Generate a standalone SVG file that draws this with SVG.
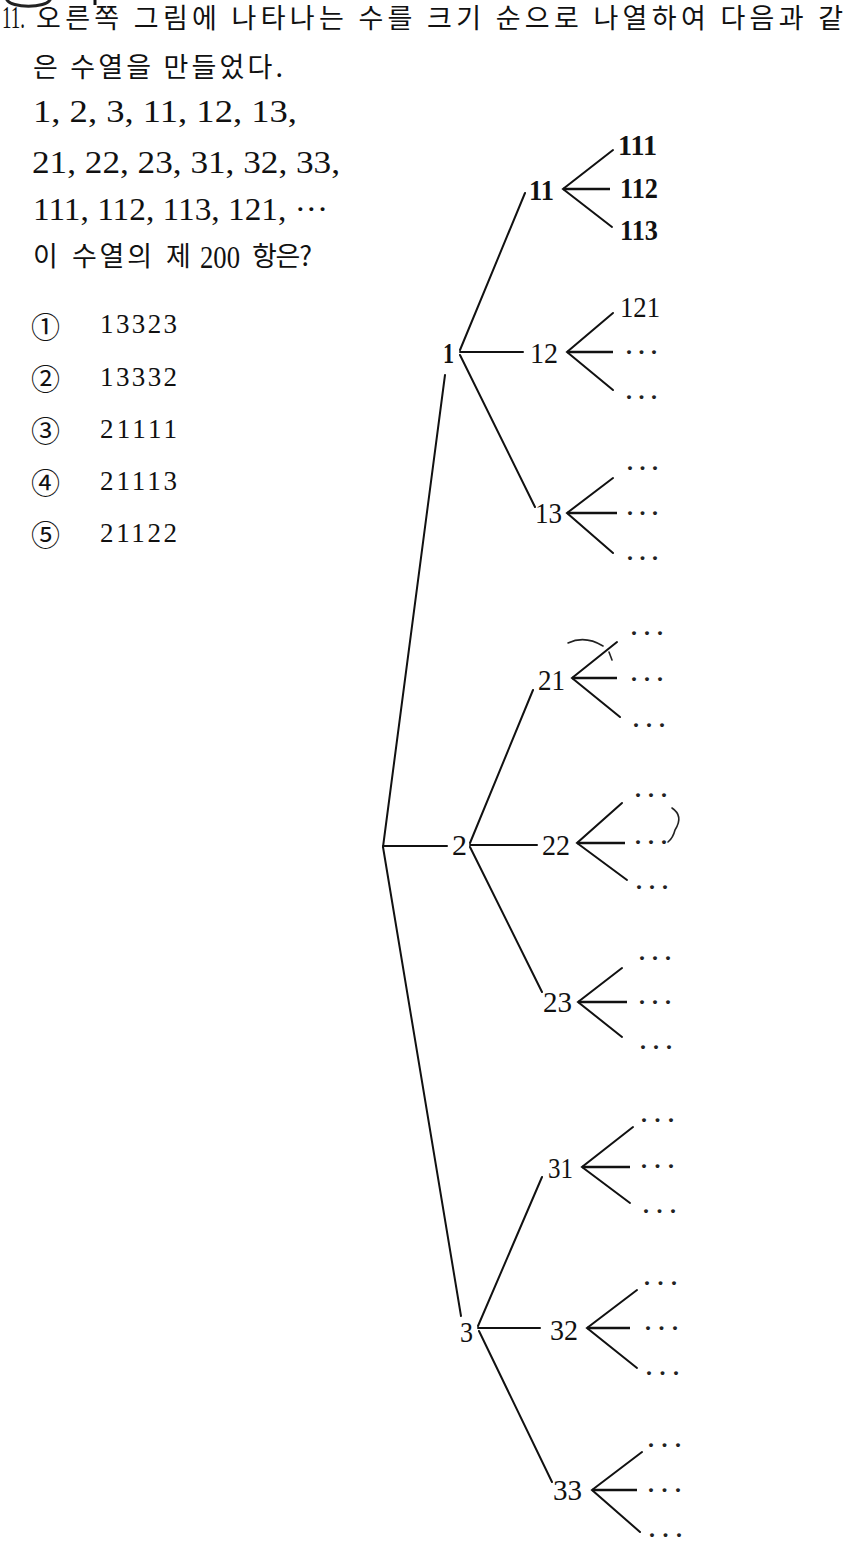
<svg xmlns="http://www.w3.org/2000/svg" width="860" height="1558" viewBox="0 0 860 1558">
<style>
.ko{font-family:"Noto Sans CJK KR","Noto Sans",sans-serif;font-size:27px;fill:#111}
.num{font-family:"Liberation Serif","DejaVu Serif",serif;font-size:31px;fill:#111}
.ch{font-family:"Liberation Serif",serif;font-size:27px;fill:#111}
.circ{font-family:"Noto Sans CJK KR","DejaVu Sans",sans-serif;font-size:29px;fill:#111}
.lb{font-family:"Liberation Serif",serif;font-size:30px;fill:#111}
.lbb{font-family:"Liberation Serif",serif;font-size:30px;font-weight:bold;fill:#111}
.dots{font-family:"Liberation Serif",serif;font-size:24px;font-weight:bold;fill:#222}
.ln{stroke:#111;stroke-width:2;fill:none;stroke-linecap:round}
.mid{stroke:#111;stroke-width:2.6;fill:none}
.hand{stroke:#222;stroke-width:1.6;fill:none;stroke-linecap:round}
</style>
<rect width="860" height="1558" fill="#fff"/>

<g id="header-fragment">
<path d="M7,0 A22,8 0 0 0 50,0" class="hand" style="stroke-width:3"/>
<line x1="95" y1="0" x2="95" y2="5" stroke="#111" stroke-width="3"/>
</g>

<g id="question">
<text class="num" x="2" y="28" textLength="23" lengthAdjust="spacingAndGlyphs">11.</text>
<text class="ko" x="36" y="28" textLength="807" lengthAdjust="spacing">오른쪽 그림에 나타나는 수를 크기 순으로 나열하여 다음과 같</text>
<text class="ko" x="33" y="77" textLength="250" lengthAdjust="spacing">은 수열을 만들었다.</text>
<text class="num" x="33" y="122" textLength="264" lengthAdjust="spacingAndGlyphs">1, 2, 3, 11, 12, 13,</text>
<text class="num" x="32" y="173" textLength="308" lengthAdjust="spacingAndGlyphs">21, 22, 23, 31, 32, 33,</text>
<text class="num" x="33" y="220" textLength="295" lengthAdjust="spacingAndGlyphs">111, 112, 113, 121, ···</text>
<text class="ko" x="33" y="266">이</text>
<text class="ko" x="72" y="266" textLength="80" lengthAdjust="spacing">수열의</text>
<text class="ko" x="166" y="266">제</text>
<text class="num" x="200" y="268" textLength="40" lengthAdjust="spacingAndGlyphs">200</text>
<text class="ko" x="252" y="266" textLength="60" lengthAdjust="spacing">항은?</text>
</g>

<g id="choices">
<text class="circ" x="45.5" y="325" text-anchor="middle" dominant-baseline="central">①</text>
<text class="ch" x="100" y="333" textLength="77" lengthAdjust="spacing">13323</text>
<text class="circ" x="45.5" y="377" text-anchor="middle" dominant-baseline="central">②</text>
<text class="ch" x="100" y="386" textLength="77" lengthAdjust="spacing">13332</text>
<text class="circ" x="45.5" y="429" text-anchor="middle" dominant-baseline="central">③</text>
<text class="ch" x="100" y="438" textLength="77" lengthAdjust="spacing">21111</text>
<text class="circ" x="45.5" y="481" text-anchor="middle" dominant-baseline="central">④</text>
<text class="ch" x="100" y="490" textLength="77" lengthAdjust="spacing">21113</text>
<text class="circ" x="45.5" y="533" text-anchor="middle" dominant-baseline="central">⑤</text>
<text class="ch" x="100" y="542" textLength="77" lengthAdjust="spacing">21122</text>
</g>

<g id="connectors">
<!-- trunk -->
<line class="ln" x1="445" y1="375" x2="383" y2="847"/>
<line class="ln" x1="383" y1="847" x2="461" y2="1316"/>
<line class="ln" x1="383" y1="846" x2="447" y2="846"/>
<!-- 1 -->
<line class="ln" x1="460" y1="350" x2="525" y2="193"/>
<line class="ln" x1="460" y1="352" x2="523" y2="352"/>
<line class="ln" x1="460" y1="355" x2="535" y2="507"/>
<!-- 2 -->
<line class="ln" x1="470" y1="843" x2="533" y2="690"/>
<line class="ln" x1="470" y1="845" x2="537" y2="845"/>
<line class="ln" x1="470" y1="847" x2="542" y2="992"/>
<!-- 3 -->
<line class="ln" x1="478" y1="1326" x2="542" y2="1177"/>
<line class="ln" x1="478" y1="1328" x2="540" y2="1328"/>
<line class="ln" x1="479" y1="1331" x2="552" y2="1482"/>
<!-- fans -->
<path class="ln" d="M613,150 L563,189 L612,227"/><line class="mid" x1="563" y1="189" x2="610" y2="189"/>
<path class="ln" d="M613,313 L567,352 L613,390"/><line class="mid" x1="567" y1="352" x2="613" y2="352"/>
<path class="ln" d="M613,478 L567,513 L613,553"/><line class="mid" x1="567" y1="513" x2="617" y2="513"/>
<path class="ln" d="M617,642 L572,678 L620,717"/><line class="mid" x1="572" y1="678" x2="617" y2="678"/>
<path class="ln" d="M622,803 L577,843 L627,880"/><line class="mid" x1="577" y1="843" x2="625" y2="843"/>
<path class="ln" d="M622,968 L578,1002 L622,1037"/><line class="mid" x1="578" y1="1002" x2="627" y2="1002"/>
<path class="ln" d="M633,1127 L582,1167 L630,1203"/><line class="mid" x1="582" y1="1167" x2="630" y2="1167"/>
<path class="ln" d="M637,1290 L587,1328 L637,1368"/><line class="mid" x1="587" y1="1328" x2="630" y2="1328"/>
<path class="ln" d="M642,1452 L592,1490 L640,1532"/><line class="mid" x1="592" y1="1490" x2="637" y2="1490"/>
</g>

<g id="n1"><text class="lbb" x="443" y="363" textLength="11" lengthAdjust="spacingAndGlyphs">1</text></g>
<g id="n2"><text class="lb" x="452" y="855" textLength="15" lengthAdjust="spacingAndGlyphs">2</text></g>
<g id="n3"><text class="lb" x="460" y="1342" textLength="13" lengthAdjust="spacingAndGlyphs">3</text></g>

<g id="n11"><text class="lbb" x="529" y="200" textLength="25" lengthAdjust="spacingAndGlyphs">11</text></g>
<g id="n12"><text class="lb" x="530" y="363" textLength="28" lengthAdjust="spacingAndGlyphs">12</text></g>
<g id="n13"><text class="lb" x="535" y="523" textLength="27" lengthAdjust="spacingAndGlyphs">13</text></g>
<g id="n21"><text class="lb" x="538" y="690" textLength="27" lengthAdjust="spacingAndGlyphs">21</text></g>
<g id="n22"><text class="lb" x="542" y="855" textLength="28" lengthAdjust="spacingAndGlyphs">22</text></g>
<g id="n23"><text class="lb" x="543" y="1012" textLength="29" lengthAdjust="spacingAndGlyphs">23</text></g>
<g id="n31"><text class="lb" x="548" y="1178" textLength="25" lengthAdjust="spacingAndGlyphs">31</text></g>
<g id="n32"><text class="lb" x="550" y="1340" textLength="28" lengthAdjust="spacingAndGlyphs">32</text></g>
<g id="n33"><text class="lb" x="553" y="1500" textLength="29" lengthAdjust="spacingAndGlyphs">33</text></g>

<g id="n111"><text class="lbb" x="618" y="155" textLength="39" lengthAdjust="spacingAndGlyphs">111</text></g>
<g id="n112"><text class="lbb" x="620" y="198" textLength="38" lengthAdjust="spacingAndGlyphs">112</text></g>
<g id="n113"><text class="lbb" x="620" y="240" textLength="38" lengthAdjust="spacingAndGlyphs">113</text></g>
<g id="n121"><text class="lb" x="620" y="317" textLength="40" lengthAdjust="spacingAndGlyphs">121</text></g>

<g id="leaf-dots" class="dots">
<text x="625" y="352" dominant-baseline="central" textLength="33">···</text>
<text x="625" y="397" dominant-baseline="central" textLength="33">···</text>
<text x="626" y="468" dominant-baseline="central" textLength="33">···</text>
<text x="626" y="513" dominant-baseline="central" textLength="33">···</text>
<text x="626" y="558" dominant-baseline="central" textLength="33">···</text>
<text x="630" y="633" dominant-baseline="central" textLength="34">···</text>
<text x="630" y="679" dominant-baseline="central" textLength="34">···</text>
<text x="632" y="725" dominant-baseline="central" textLength="34">···</text>
<text x="634" y="795" dominant-baseline="central" textLength="34">···</text>
<text x="634" y="842" dominant-baseline="central" textLength="34">···</text>
<text x="635" y="887" dominant-baseline="central" textLength="34">···</text>
<text x="638" y="958" dominant-baseline="central" textLength="34">···</text>
<text x="638" y="1002" dominant-baseline="central" textLength="34">···</text>
<text x="639" y="1047" dominant-baseline="central" textLength="34">···</text>
<text x="640" y="1120" dominant-baseline="central" textLength="35">···</text>
<text x="640" y="1166" dominant-baseline="central" textLength="35">···</text>
<text x="642" y="1211" dominant-baseline="central" textLength="35">···</text>
<text x="643" y="1283" dominant-baseline="central" textLength="35">···</text>
<text x="644" y="1328" dominant-baseline="central" textLength="35">···</text>
<text x="645" y="1373" dominant-baseline="central" textLength="35">···</text>
<text x="647" y="1445" dominant-baseline="central" textLength="35">···</text>
<text x="647" y="1490" dominant-baseline="central" textLength="35">···</text>
<text x="648" y="1535" dominant-baseline="central" textLength="35">···</text>
</g>

<g id="handwriting">
<path class="hand" d="M568,643 Q585,635 603,646"/>
<path class="hand" d="M609,652 L612,660"/>
<path class="hand" d="M672,808 Q684,816 675,830 Q673,838 668,842"/>
</g>
</svg>
